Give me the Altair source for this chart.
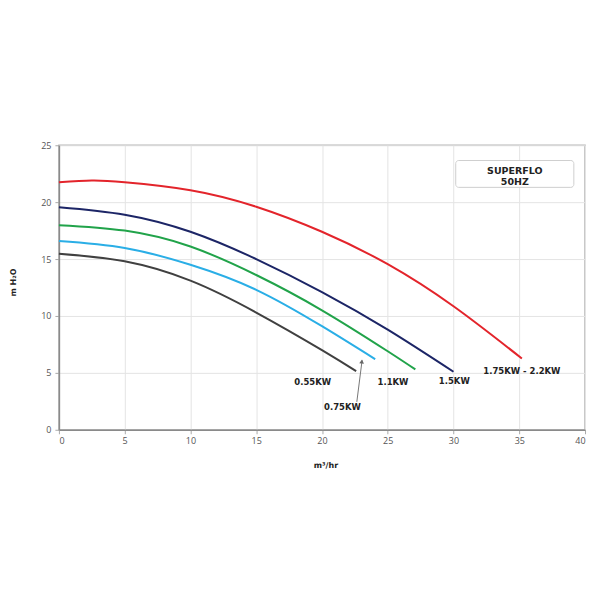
import altair as alt
import pandas as pd

# Pump curves (flow m3/hr vs head m H2O)
red_x = [0, 2.5, 5, 10, 15, 20, 25, 30, 35.2]
red_y = [21.75, 21.9, 21.75, 21.05, 19.6, 17.4, 14.55, 10.85, 6.26]
navy_x = [0, 5, 10, 15, 20, 25, 30]
navy_y = [19.56, 18.9, 17.4, 15.0, 12.1, 8.8, 5.1]
green_x = [0, 5, 10, 15, 20, 25, 27.1]
green_y = [17.98, 17.5, 16.1, 13.6, 10.5, 6.9, 5.3]
cyan_x = [0, 5, 10, 15, 20, 24.05]
cyan_y = [16.58, 15.97, 14.5, 12.3, 9.1, 6.2]
black_x = [0, 5, 10, 15, 20, 22.6]
black_y = [15.47, 14.8, 13.1, 10.3, 7.0, 5.15]

series_names = ["1.75KW - 2.2KW", "1.5KW", "1.1KW", "0.75KW", "0.55KW"]
series_colors = ["#e3242b", "#1c2566", "#21a34a", "#2aaee6", "#404040"]

label_text = ["1.75KW - 2.2KW", "1.5KW", "1.1KW", "0.75KW", "0.55KW"]
label_x = [35.2, 30.06, 25.4, 21.56, 19.3]
label_y = [5.15, 4.3, 4.2, 2.0, 4.2]

rows = []
for name, xs, ys in zip(series_names,
                        [red_x, navy_x, green_x, cyan_x, black_x],
                        [red_y, navy_y, green_y, cyan_y, black_y]):
    for i, (a, b) in enumerate(zip(xs, ys)):
        rows.append({"series": name, "flow": a, "head": b, "order": i})
df = pd.DataFrame(rows)

xscale = alt.Scale(domain=[0, 40], nice=False)
yscale = alt.Scale(domain=[0, 25], nice=False)

lines = alt.Chart(df).mark_line(strokeWidth=2, interpolate="natural").encode(
    x=alt.X("flow:Q", scale=xscale,
            axis=alt.Axis(title="m³/hr", values=list(range(0, 41, 5)), titleX=267, titleY=36,
                          titleBaseline="middle")),
    y=alt.Y("head:Q", scale=yscale,
            axis=alt.Axis(title="m H₂O", values=list(range(0, 26, 5)), titleX=-45, titleY=137,
                          titleBaseline="middle")),
    color=alt.Color("series:N", scale=alt.Scale(domain=series_names, range=series_colors), legend=None),
    order="order:Q",
)

lab_df = pd.DataFrame({"t": label_text, "x": label_x, "y": label_y})
labels = alt.Chart(lab_df).mark_text(font="DejaVu Sans", fontWeight="bold", fontSize=8.5,
                                      color="#222").encode(
    x=alt.X("x:Q", scale=xscale), y=alt.Y("y:Q", scale=yscale), text="t:N")

# arrow for 0.75KW
arrow_df = pd.DataFrame({"x": [22.65], "y": [2.45], "x2": [23.05], "y2": [6.1]})
arrow = alt.Chart(arrow_df).mark_rule(color="#777", strokeWidth=1).encode(
    x=alt.X("x:Q", scale=xscale), y=alt.Y("y:Q", scale=yscale), x2="x2:Q", y2="y2:Q")
tip_df = pd.DataFrame({"x": [23.03], "y": [6.0]})
tip = alt.Chart(tip_df).mark_point(shape="triangle-up", filled=True, size=22, color="#666",
                                   angle=6, opacity=1).encode(
    x=alt.X("x:Q", scale=xscale), y=alt.Y("y:Q", scale=yscale))

# title box
box_df = pd.DataFrame({"x": [30.17], "x2": [39.15], "y": [21.3], "y2": [23.66]})
box = alt.Chart(box_df).mark_rect(fill="white", stroke="#cfcfcf", strokeWidth=1,
                                  cornerRadius=3).encode(
    x=alt.X("x:Q", scale=xscale), x2="x2:Q", y=alt.Y("y:Q", scale=yscale), y2="y2:Q")
box_text_df = pd.DataFrame({"t": ["SUPERFLO", "50HZ"], "x": [34.66, 34.66], "y": [22.76, 21.75]})
box_text = alt.Chart(box_text_df).mark_text(font="DejaVu Sans", fontWeight="bold", fontSize=9.5,
                                            color="#222").encode(
    x=alt.X("x:Q", scale=xscale), y=alt.Y("y:Q", scale=yscale), text="t:N")

chart = alt.layer(lines, arrow, tip, labels, box, box_text).properties(
    width=527, height=285,
    autosize=alt.AutoSizeParams(type="none"),
    padding={"left": 51, "top": 137, "right": 10, "bottom": 150},
).configure_view(stroke="#b5b5b5", strokeWidth=1.5).configure_axis(
    grid=True, gridColor="#e4e4e4", gridWidth=1,
    domainColor="#8a8a8a", domainWidth=1.5,
    tickColor="#aaaaaa", tickSize=4,
    labelFont="Open Sans", labelFontSize=9, labelColor="#555",
    titleFont="DejaVu Sans", titleFontSize=8, titleFontWeight="bold", titleColor="#222",
).configure_axisY(labelPadding=4).configure_axisX(labelPadding=3)

chart.save("out.html", embed_options={"renderer": "svg", "actions": False})
